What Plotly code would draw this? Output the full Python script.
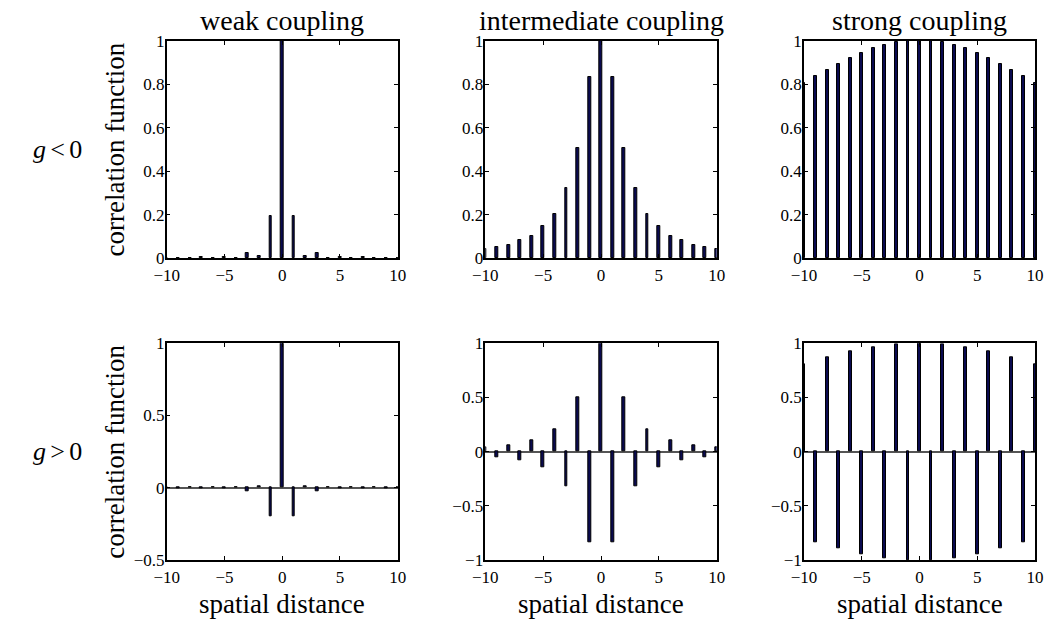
import plotly.graph_objects as go

distance = list(range(-10, 11))

# |C(r)| for r = 0..10
weak_abs = [1.0, 0.195, 0.009, 0.025, 0.002, 0.006, 0.001, 0.003, 0.001, 0.002, 0.001]
inter_abs = [1.0, 0.835, 0.505, 0.322, 0.204, 0.146, 0.103, 0.081, 0.061, 0.052, 0.041]
strong_abs = [1.0, 1.0, 0.994, 0.983, 0.966, 0.946, 0.922, 0.896, 0.867, 0.837, 0.808]

def sym(vals):
    return [vals[abs(r)] for r in distance]

def alt(vals):
    return [vals[abs(r)] * (1 if abs(r) % 2 == 0 else -1) for r in distance]

weak_neg = sym(weak_abs)
inter_neg = sym(inter_abs)
strong_neg = sym(strong_abs)
weak_pos = alt(weak_abs)
inter_pos = alt(inter_abs)
strong_pos = alt(strong_abs)

col_titles = ["weak coupling", "intermediate coupling", "strong coupling"]
row_labels = ["<i>g</i>\u2006&lt;\u20060", "<i>g</i>\u2006&gt;\u20060"]
y_title = "correlation function"
x_title = "spatial distance"
x_ticks = [-10, -5, 0, 5, 10]
x_ticktext = ["\u221210", "\u22125", "0", "5", "10"]
top_yticks = [0, 0.2, 0.4, 0.6, 0.8, 1]
top_ytext = ["0", "0.2", "0.4", "0.6", "0.8", "1"]
bl_yticks = [-0.5, 0, 0.5, 1]
bl_ytext = ["\u22120.5", "0", "0.5", "1"]
b_yticks = [-1, -0.5, 0, 0.5, 1]
b_ytext = ["\u22121", "\u22120.5", "0", "0.5", "1"]

W, H = 1047, 625

def fx(s):
    return s / W

def fy(s):
    return 1 - s / H

xpix = [(166.7, 397.7), (485.3, 716.7), (804, 1035)]
ypix = [(41, 258), (343.3, 560)]

FONT = "Liberation Serif"

panels = [
    (0, 0, weak_neg, [0, 1], top_yticks, top_ytext),
    (0, 1, inter_neg, [0, 1], top_yticks, top_ytext),
    (0, 2, strong_neg, [0, 1], top_yticks, top_ytext),
    (1, 0, weak_pos, [-0.5, 1], bl_yticks, bl_ytext),
    (1, 1, inter_pos, [-1, 1], b_yticks, b_ytext),
    (1, 2, strong_pos, [-1, 1], b_yticks, b_ytext),
]

fig = go.Figure()
layout = {}
for i, (r, c, vals, yr, yt, ytt) in enumerate(panels):
    n = i + 1
    xa = "x" if n == 1 else f"x{n}"
    ya = "y" if n == 1 else f"y{n}"
    fig.add_trace(go.Bar(
        x=distance, y=vals, xaxis=xa, yaxis=ya, width=0.25,
        marker=dict(color="#0a0a50", line=dict(color="black", width=1)),
        showlegend=False, hoverinfo="skip",
    ))
    x0, x1 = xpix[c]
    y0, y1 = ypix[r]
    axis_common = dict(
        showline=True, linecolor="black", linewidth=1.5, mirror="ticks",
        ticks="inside", ticklen=4, tickcolor="black", tickwidth=1,
        showgrid=False, automargin=False,
        tickfont=dict(family=FONT, size=17, color="black"),
    )
    layout["xaxis" if n == 1 else f"xaxis{n}"] = dict(
        axis_common, domain=[fx(x0), fx(x1)], range=[-10, 10],
        anchor=ya, tickvals=x_ticks, ticktext=x_ticktext, zeroline=False,
        ticklabelstandoff=1,
    )
    layout["yaxis" if n == 1 else f"yaxis{n}"] = dict(
        axis_common, domain=[fy(y1), fy(y0)], range=yr,
        anchor=xa, tickvals=yt, ticktext=ytt, ticklabelstandoff=-3,
        zeroline=(r == 1), zerolinecolor="#555555", zerolinewidth=1.5,
    )

annotations = []
for c, t in enumerate(col_titles):
    x0, x1 = xpix[c]
    annotations.append(dict(
        text=t, x=fx((x0 + x1) / 2), y=fy(20), xref="paper", yref="paper",
        showarrow=False, font=dict(family=FONT, size=28, color="black"),
        xanchor="center", yanchor="middle",
    ))
    annotations.append(dict(
        text=x_title, x=fx((x0 + x1) / 2), y=fy(604), xref="paper", yref="paper",
        showarrow=False, font=dict(family=FONT, size=27, color="black"),
        xanchor="center", yanchor="middle",
    ))
for r, t in enumerate(row_labels):
    y0, y1 = ypix[r]
    annotations.append(dict(
        text=t, x=fx(57), y=fy((y0 + y1) / 2), xref="paper", yref="paper",
        showarrow=False, font=dict(family=FONT, size=26, color="black"),
        xanchor="center", yanchor="middle",
    ))
    annotations.append(dict(
        text=y_title, x=fx(115), y=fy((y0 + y1) / 2), xref="paper", yref="paper",
        showarrow=False, font=dict(family=FONT, size=27, color="black"),
        xanchor="center", yanchor="middle", textangle=-90,
    ))

fig.update_layout(
    **layout,
    annotations=annotations,
    width=W, height=H,
    margin=dict(l=0, r=0, t=0, b=0, autoexpand=False),
    paper_bgcolor="white", plot_bgcolor="white",
    bargap=0, hovermode=False,
)
fig.write_html(
    "out.html",
    config={"displayModeBar": False},
    post_script="document.body.style.margin='0px';document.body.style.overflow='hidden';",
)
